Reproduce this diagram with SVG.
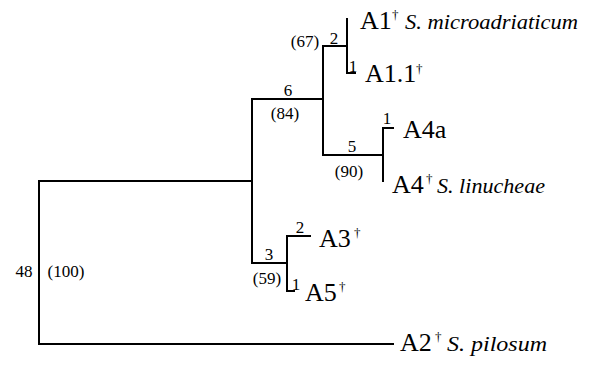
<svg xmlns="http://www.w3.org/2000/svg" width="591" height="366" viewBox="0 0 591 366">
<style>
.br{fill:none;stroke:#000;stroke-width:2;stroke-linecap:square}
.tip{font-size:26px}
.sp{font-size:20px;font-style:italic}
.dg{font-size:13px}
.n{font-size:17px;text-anchor:middle}
</style>
<rect width="591" height="366" fill="#fff"/>
<g id="connectors">
<path class="br" d="M39,181V344M39,181H252M39,344H393"/>
<path class="br" d="M252,99V263M252,99H323M252,263H287"/>
<path class="br" d="M323,46V155M323,46H347M323,155H383"/>
<path class="br" d="M347,19V73H355"/>
<path class="br" d="M383,128V181M383,128H393"/>
<path class="br" d="M287,236V291H294M287,236H310"/>
</g>
<g font-family="'Liberation Serif', 'Times New Roman', Times, 'DejaVu Serif', serif" fill="#000">
<g id="branch-labels">
<text class="n" x="334" y="44">2</text>
<text class="n" x="305" y="47">(67)</text>
<text class="n" x="353" y="72">1</text>
<text class="n" x="288" y="96">6</text>
<text class="n" x="285" y="119">(84)</text>
<text class="n" x="387" y="124">1</text>
<text class="n" x="352" y="152">5</text>
<text class="n" x="349" y="177">(90)</text>
<text class="n" x="300" y="233">2</text>
<text class="n" x="269" y="260">3</text>
<text class="n" x="267" y="284">(59)</text>
<text class="n" x="296" y="290">1</text>
<text class="n" x="24" y="277">48</text>
<text class="n" x="66" y="277">(100)</text>
</g>
<g id="A1"><text class="tip" x="360" y="29">A1</text><text class="dg" x="392" y="19">†</text><text class="sp" x="405" y="29" textLength="173" lengthAdjust="spacingAndGlyphs">S. microadriaticum</text></g>
<g id="A1.1"><text class="tip" x="365" y="82">A1.1</text><text class="dg" x="416" y="73">†</text></g>
<g id="A4a"><text class="tip" x="403" y="138">A4a</text></g>
<g id="A4"><text class="tip" x="392" y="193">A4</text><text class="dg" x="426" y="183">†</text><text class="sp" x="437" y="193" textLength="108" lengthAdjust="spacingAndGlyphs">S. linucheae</text></g>
<g id="A3"><text class="tip" x="319" y="247">A3</text><text class="dg" x="354" y="237">†</text></g>
<g id="A5"><text class="tip" x="305" y="301">A5</text><text class="dg" x="339" y="291">†</text></g>
<g id="A2"><text class="tip" x="400" y="351">A2</text><text class="dg" x="435" y="341">†</text><text class="sp" x="447" y="351" textLength="100" lengthAdjust="spacingAndGlyphs">S. pilosum</text></g>
</g>
</svg>
